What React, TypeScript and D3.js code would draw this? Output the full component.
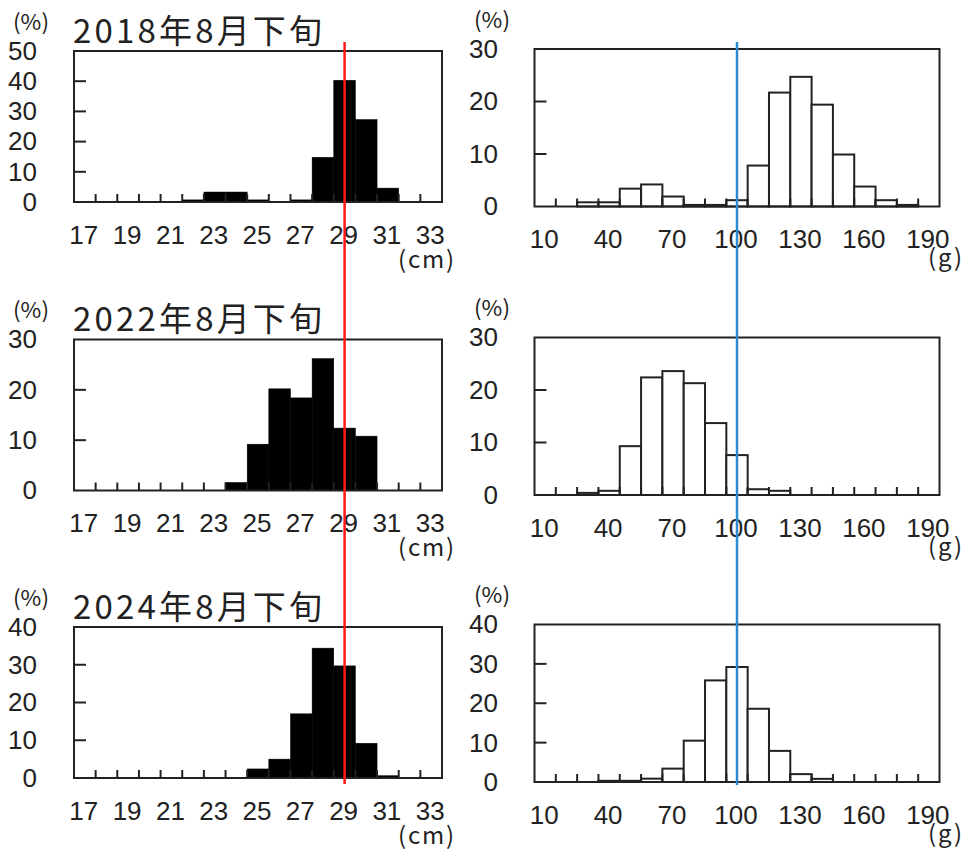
import React from "react";
import * as d3 from "d3";

// length bins (cm) and weight bins (g)
const lengthBins = [17, 18, 19, 20, 21, 22, 23, 24, 25, 26, 27, 28, 29, 30, 31, 32, 33];
const weightBins = [10, 20, 30, 40, 50, 60, 70, 80, 90, 100, 110, 120, 130, 140, 150, 160, 170, 180, 190];
const lengthTickLabels = [17, 19, 21, 23, 25, 27, 29, 31, 33];
const weightTickLabels = [10, 40, 70, 100, 130, 160, 190];

const seasons = ["2018年8月下旬", "2022年8月下旬", "2024年8月下旬"];
const lengthYMax = [50, 30, 40];
const weightYMax = [30, 30, 40];

// percentages per bin
const length2018 = [0, 0, 0, 0, 0, 0.7, 3.3, 3.3, 0.7, 0, 0.7, 14.8, 40.3, 27.3, 4.6, 0, 0];
const length2022 = [0, 0, 0, 0, 0, 0, 0, 1.6, 9.2, 20.2, 18.4, 26.2, 12.4, 10.8, 0, 0, 0];
const length2024 = [0, 0, 0, 0, 0, 0, 0, 0, 2.4, 5.0, 17.0, 34.4, 29.7, 9.2, 0.6, 0, 0];
const weight2018 = [0, 0, 0.8, 0.8, 3.4, 4.2, 1.9, 0.3, 0.3, 1.2, 7.8, 21.7, 24.7, 19.4, 9.9, 3.8, 1.2, 0.3, 0];
const weight2022 = [0, 0, 0.4, 0.8, 9.3, 22.4, 23.6, 21.3, 13.7, 7.6, 1.1, 0.8, 0, 0, 0, 0, 0, 0, 0];
const weight2024 = [0, 0, 0, 0.3, 0.3, 0.85, 3.4, 10.5, 25.8, 29.2, 18.6, 7.9, 2.0, 0.8, 0, 0, 0, 0, 0];

const refLength = 29;
const refWeight = 100;

const lengthSeries = [length2018, length2022, length2024];
const weightSeries = [weight2018, weight2022, weight2024];

const W = 976;
const H = 868;
const numFont = "'Liberation Sans', Arial, sans-serif";
const jpFont = "'Noto Sans CJK JP', sans-serif";

const leftX: [number, number] = [74, 442];
const rightX: [number, number] = [534.5, 939.5];
const leftTops = [51, 339.5, 627];
const rightTops = [49, 337.5, 624.5];
const leftH = 151;
const rightH = 157.5;

type PanelProps = {
  bins: number[];
  values: number[];
  tickLabels: number[];
  xRange: [number, number];
  top: number;
  height: number;
  yMax: number;
  filled: boolean;
  title?: string;
  unit: string;
  unitX: number;
  unitDy: number;
  unitLen: number;
  yLabelRight: number;
};

function Panel(p: PanelProps) {
  const x = d3.scaleBand<number>().domain(p.bins).range(p.xRange).paddingInner(0).paddingOuter(0);
  const bottom = p.top + p.height;
  const y = d3.scaleLinear().domain([0, p.yMax]).range([bottom, p.top]);
  const yTicks = d3.range(0, p.yMax + 1, 10);
  const bw = x.bandwidth();

  return (
    <g>
      {p.values.map((v, i) =>
        v > 0 ? (
          <rect
            key={i}
            x={x(p.bins[i])!}
            y={y(v)}
            width={bw}
            height={bottom - y(v)}
            fill={p.filled ? "#000" : "#fff"}
            stroke={p.filled ? "#000" : "#222"}
            strokeWidth={p.filled ? 0.5 : 2}
          />
        ) : null
      )}
      <rect
        x={p.xRange[0]}
        y={p.top}
        width={p.xRange[1] - p.xRange[0]}
        height={p.height}
        fill="none"
        stroke="#222"
        strokeWidth={2}
      />
      {p.bins.slice(1).map((b) => (
        <line key={b} x1={x(b)!} x2={x(b)!} y1={bottom} y2={bottom - 8} stroke="#222" strokeWidth={2} />
      ))}
      {yTicks.slice(1, -1).map((t) => (
        <line key={t} x1={p.xRange[0]} x2={p.xRange[0] + 12} y1={y(t)} y2={y(t)} stroke="#222" strokeWidth={2} />
      ))}
      {yTicks.map((t) => (
        <text
          key={t}
          x={p.yLabelRight}
          y={y(t) + 2}
          textAnchor="end"
          dominantBaseline="middle"
          fontFamily={numFont}
          fontSize={26}
          fill="#222"
        >
          {t}
        </text>
      ))}
      {p.tickLabels.map((t) => (
        <text
          key={t}
          x={x(t)! + bw / 2 - 1}
          y={bottom + 35}
          textAnchor="middle"
          dominantBaseline="middle"
          fontFamily={numFont}
          fontSize={26}
          fill="#222"
        >
          {t}
        </text>
      ))}
      <text
        x={p.yLabelRight - 6}
        y={p.top - 27}
        textAnchor="middle"
        dominantBaseline="middle"
        fontFamily={jpFont}
        fontSize={22}
        fill="#222"
        textLength={36}
        lengthAdjust="spacingAndGlyphs"
      >
        (%)
      </text>
      <text
        x={p.unitX}
        y={bottom + p.unitDy}
        textAnchor="middle"
        dominantBaseline="middle"
        fontFamily={jpFont}
        fontSize={24}
        fill="#222"
        textLength={p.unitLen}
        lengthAdjust="spacing"
      >
        {p.unit}
      </text>
      {p.title ? (
        <text
          x={p.xRange[0] - 1}
          y={p.top - 8.5}
          fontFamily={jpFont}
          fontSize={33}
          fill="#222"
          textLength={249}
          lengthAdjust="spacing"
        >
          {p.title}
        </text>
      ) : null}
    </g>
  );
}

export default function App() {
  const xL = d3.scaleBand<number>().domain(lengthBins).range(leftX);
  const xR = d3.scaleBand<number>().domain(weightBins).range(rightX);
  const redX = xL(refLength)! + xL.bandwidth() / 2;
  const blueX = xR(refWeight)! + xR.bandwidth() / 2;

  return (
    <svg width={W} height={H} style={{ position: "absolute", left: 0, top: 0, background: "#fff" }}>
      <rect width={W} height={H} fill="#fff" />
      {seasons.map((s, i) => (
        <g key={s}>
          <Panel
            bins={lengthBins}
            values={lengthSeries[i]}
            tickLabels={lengthTickLabels}
            xRange={leftX}
            top={leftTops[i]}
            height={leftH}
            yMax={lengthYMax[i]}
            filled={true}
            title={s}
            unit="(cm)"
            unitX={426}
            unitDy={59}
            unitLen={56}
            yLabelRight={37}
          />
          <Panel
            bins={weightBins}
            values={weightSeries[i]}
            tickLabels={weightTickLabels}
            xRange={rightX}
            top={rightTops[i]}
            height={rightH}
            yMax={weightYMax[i]}
            filled={false}
            unit="(g)"
            unitX={945}
            unitDy={53}
            unitLen={34}
            yLabelRight={498}
          />
        </g>
      ))}
      <line x1={redX} x2={redX} y1={42} y2={784} stroke="#ff1a1a" strokeWidth={2.5} />
      <line x1={blueX} x2={blueX} y1={42} y2={785} stroke="#2a8ad4" strokeWidth={2.5} />
    </svg>
  );
}
